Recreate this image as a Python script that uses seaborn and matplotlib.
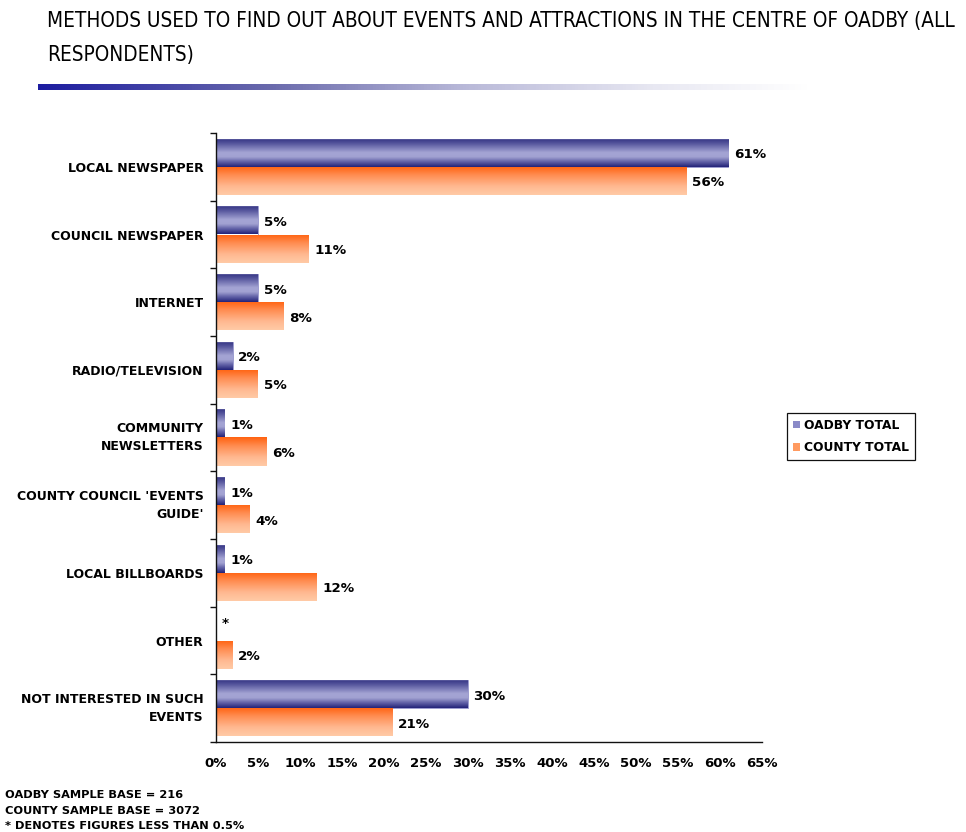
import numpy as np
import pandas as pd
import matplotlib
matplotlib.use("Agg")
import matplotlib.pyplot as plt
from matplotlib.colors import LinearSegmentedColormap
from matplotlib.patches import Patch
from matplotlib.transforms import ScaledTranslation
import seaborn as sns

categories = [
    "LOCAL NEWSPAPER",
    "COUNCIL NEWSPAPER",
    "INTERNET",
    "RADIO/TELEVISION",
    "COMMUNITY\nNEWSLETTERS",
    "COUNTY COUNCIL 'EVENTS\nGUIDE'",
    "LOCAL BILLBOARDS",
    "OTHER",
    "NOT INTERESTED IN SUCH\nEVENTS",
]
oadby_total = [61, 5, 5, 2, 1, 1, 1, 0, 30]
county_total = [56, 11, 8, 5, 6, 4, 12, 2, 21]
oadby_labels = ["61%", "5%", "5%", "2%", "1%", "1%", "1%", "*", "30%"]
county_labels = ["56%", "11%", "8%", "5%", "6%", "4%", "12%", "2%", "21%"]
series_names = ["OADBY TOTAL", "COUNTY TOTAL"]
x_ticks = list(range(0, 70, 5))
footnotes = [
    "OADBY SAMPLE BASE = 216",
    "COUNTY SAMPLE BASE = 3072",
    "* DENOTES FIGURES LESS THAN 0.5%",
]
title_lines = [
    "METHODS USED TO FIND OUT ABOUT EVENTS AND ATTRACTIONS IN THE CENTRE OF OADBY (ALL",
    "RESPONDENTS)",
]

df = pd.DataFrame({
    "method": categories * 2,
    "pct": oadby_total + county_total,
    "series": [series_names[0]] * len(categories) + [series_names[1]] * len(categories),
})

sns.set_theme(style="white")
plt.rcParams["font.family"] = ["DejaVu Sans"]
plt.rcParams["text.color"] = "#000000"
plt.rcParams["xtick.labelcolor"] = "#000000"
plt.rcParams["ytick.labelcolor"] = "#000000"

fig = plt.figure(figsize=(9.66, 8.32), dpi=100)
ax = fig.add_axes([216 / 966, 1 - 742 / 832, 546 / 966, 609 / 832])

sns.barplot(data=df, y="method", x="pct", hue="series", orient="h",
            width=0.83, palette=["#5a5aa8", "#ff8c4a"], legend=False,
            ax=ax, linewidth=0, saturation=1)

xlim = (0, 65)
ylim = ax.get_ylim()

# gradient fills clipped to each bar
navy = LinearSegmentedColormap.from_list(
    "navy", [(0, "#c4c4e4"), (0.05, "#3a3a88"), (0.2, "#5a5aa0"), (0.5, "#a4a4d4"),
             (0.65, "#a2a2d2"), (0.85, "#5858a0"), (1, "#24247a")])
orange = LinearSegmentedColormap.from_list(
    "orange", [(0, "#ff6210"), (0.3, "#ff8c50"), (0.7, "#ffb890"), (1, "#ffcaa6")])
grad = np.linspace(0, 1, 64).reshape(-1, 1)

for container, cmap, edge in zip(ax.containers, [navy, orange], ["#8c8cc8", "none"]):
    for bar in container:
        x0 = bar.get_x()
        w = bar.get_width()
        y0 = bar.get_y()
        h = bar.get_height()
        if w <= 0:
            bar.set_visible(False)
            continue
        bar.set_facecolor("none")
        bar.set_edgecolor(edge)
        bar.set_linewidth(0.6)
        im = ax.imshow(grad, cmap=cmap, aspect="auto", origin="upper",
                       extent=(x0, x0 + w, y0 + h, y0), zorder=1.5,
                       interpolation="bilinear")
        im.set_clip_path(bar)

ax.set_xlim(*xlim)
ax.set_ylim(*ylim)

# value labels
for container, labels in zip(ax.containers, [oadby_labels, county_labels]):
    for bar, lab in zip(container, labels):
        yc = bar.get_y() + bar.get_height() / 2
        dy = 2 if lab == "*" else -1.5
        ax.annotate(lab, (bar.get_x() + bar.get_width(), yc),
                    xytext=(4, dy), textcoords="offset points",
                    ha="left", va="center", fontsize=9.7, fontweight="bold",
                    color="#000000")

# axes styling
for s in ["top", "right"]:
    ax.spines[s].set_visible(False)
for s in ["left", "bottom"]:
    ax.spines[s].set_color("#111111")
    ax.spines[s].set_linewidth(1.0)

ax.set_xticks(x_ticks)
ax.set_xticklabels([f"{t}%" for t in x_ticks], fontsize=9.5, fontweight="bold")
ax.tick_params(axis="x", direction="out", length=4, width=1, color="#111111", pad=7)

ax.set_yticks(range(len(categories)))
ax.set_yticklabels(categories, fontsize=9, fontweight="bold", linespacing=1.55)
ax.tick_params(axis="y", which="major", length=0, pad=9)
ax.set_yticks(np.arange(-0.5, len(categories), 1.0), minor=True)
ax.tick_params(axis="y", which="minor", direction="out", length=4, width=1,
               color="#111111", left=True)
ax.set_xlabel("")
ax.set_ylabel("")
ax.grid(False)

# two-line category labels sit a little higher
for lab in ax.get_yticklabels():
    if "\n" in lab.get_text():
        lab.set_transform(lab.get_transform() +
                          ScaledTranslation(0, 4 / 100, fig.dpi_scale_trans))

# legend
handles = [Patch(facecolor="#8a8ac8", edgecolor="none"),
           Patch(facecolor="#ff9a60", edgecolor="none")]
leg = fig.legend(handles, series_names, loc="upper left",
                 bbox_to_anchor=(787 / 966, 1 - 413 / 832),
                 prop={"weight": "bold", "size": 8.8},
                 handlelength=0.55, handleheight=0.55, handletextpad=0.3,
                 borderpad=0.5, labelspacing=0.75, fancybox=False,
                 framealpha=1, borderaxespad=0)
leg.get_frame().set_edgecolor("#111111")
leg.get_frame().set_linewidth(0.9)

# title, sized so the first line spans the page width
renderer = fig.canvas.get_renderer()
t1 = fig.text(47 / 966, 1 - 21 / 832, title_lines[0], ha="left", va="center",
              fontsize=16, color="#000000", fontstretch="condensed")
w = t1.get_window_extent(renderer).width
size = 16 * 908 / w
t1.set_fontsize(size)
fig.text(47 / 966, 1 - 55 / 832, title_lines[1], ha="left", va="center",
         fontsize=size, color="#000000", fontstretch="condensed")

# gradient rule under the title
rule = fig.add_axes([38 / 966, 1 - 90 / 832, 772 / 966, 6 / 832])
rule_cmap = LinearSegmentedColormap.from_list(
    "rule", [(0, "#1c1ca0"), (0.3, "#6a6aac"), (0.55, "#b8b8d8"),
             (0.8, "#e8e8f2"), (1, "#ffffff")])
rule.imshow(np.linspace(0, 1, 256).reshape(1, -1), cmap=rule_cmap, aspect="auto")
rule.axis("off")

# footnotes
for i, line in enumerate(footnotes):
    fig.text(5 / 966, 1 - (795 + 15.5 * i) / 832, line, ha="left", va="center",
             fontsize=8.2, fontweight="bold", color="#000000")

fig.savefig("out.png", dpi=100)
